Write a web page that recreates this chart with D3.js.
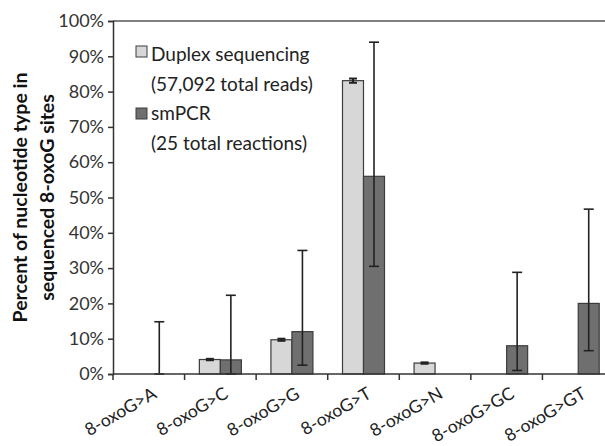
<!DOCTYPE html>
<html>
<head>
<meta charset="utf-8">
<script src="https://cdn.jsdelivr.net/npm/d3@7"></script>
<style>
  body { margin: 0; background: #fff; }
  svg { display: block; font-family: Lato, "Open Sans", sans-serif; }
</style>
</head>
<body>
<div class="chart"></div>
<script>
// Chart data.
var categories = ["8-oxoG>A", "8-oxoG>C", "8-oxoG>G", "8-oxoG>T", "8-oxoG>N", "8-oxoG>GC", "8-oxoG>GT"];
var seriesNames = ["Duplex sequencing", "smPCR"];
var seriesNotes = ["(57,092 total reads)", "(25 total reactions)"];

// Values in percent.
var duplexValues = [0, 4.1, 9.7, 83.1, 3.1, 0, 0];
var duplexLow = [null, 3.9, 9.4, 82.5, 2.9, null, null];
var duplexHigh = [null, 4.3, 10.0, 83.7, 3.3, null, null];

var smpcrValues = [0, 4, 12, 56, 0, 8, 20];
var smpcrLow = [0, 0, 2.5, 30.5, null, 1, 6.6];
var smpcrHigh = [14.8, 22.3, 35, 94, null, 28.8, 46.7];

var yTicks = [0, 10, 20, 30, 40, 50, 60, 70, 80, 90, 100];

//Define the SVG area dimensions.
var svgWidth = 605;
var svgHeight = 446;

//Plot area (it runs past the right edge of the picture).
var plot = { left: 113, right: 614, top: 21, bottom: 374 };

var svg = d3.select(".chart")
  .append("svg")
  .attr("width", svgWidth)
  .attr("height", svgHeight);

//Scales.
var x0 = d3.scaleBand()
  .domain(categories)
  .range([plot.left, plot.right])
  .padding(0);

var barW = 21;
var x1 = d3.scaleBand()
  .domain(seriesNames)
  .range([x0.bandwidth() / 2 - barW, x0.bandwidth() / 2 + barW]);

var y = d3.scaleLinear()
  .domain([0, 100])
  .range([plot.bottom, plot.top]);

var fills = ["#d7d7d7", "#6f6f6f"];
var strokeCol = "#3c3c3c";

//Top border of the plot area.
svg.append("line")
  .attr("x1", plot.left).attr("x2", plot.right)
  .attr("y1", y(100)).attr("y2", y(100))
  .attr("stroke", "#555").attr("stroke-width", 1.5);

//Y axis.
var leftAxis = d3.axisLeft(y)
  .tickValues(yTicks)
  .tickSize(5)
  .tickPadding(4)
  .tickFormat(function(d) { return d + "%"; });

var gy = svg.append("g")
  .attr("transform", "translate(" + plot.left + ",0)")
  .call(leftAxis);
gy.select(".domain").attr("stroke", "#333").attr("stroke-width", 1.5);
gy.selectAll(".tick line").attr("stroke", "#333").attr("stroke-width", 1.5);
gy.selectAll(".tick text")
  .attr("font-size", 18)
  .attr("fill", "#333")
  .style("font-family", "Lato, sans-serif");

//Bars.
var table = categories.map(function(c, i) {
  return [
    { cat: c, name: seriesNames[0], v: duplexValues[i], lo: duplexLow[i], hi: duplexHigh[i], s: 0 },
    { cat: c, name: seriesNames[1], v: smpcrValues[i], lo: smpcrLow[i], hi: smpcrHigh[i], s: 1 }
  ];
});

var groups = svg.append("g").selectAll("g")
  .data(table)
  .enter().append("g")
  .attr("transform", function(d) { return "translate(" + x0(d[0].cat) + ",0)"; });

groups.selectAll("rect")
  .data(function(d) { return d.filter(function(e) { return e.v > 0; }); })
  .enter().append("rect")
  .attr("x", function(d) { return x1(d.name); })
  .attr("width", x1.bandwidth())
  .attr("y", function(d) { return y(d.v); })
  .attr("height", function(d) { return y(0) - y(d.v); })
  .attr("fill", function(d) { return fills[d.s]; })
  .attr("stroke", strokeCol)
  .attr("stroke-width", 1.2);

//Error bars.
var eb = groups.selectAll("g.err")
  .data(function(d) { return d.filter(function(e) { return e.hi != null; }); })
  .enter().append("g")
  .attr("class", "err")
  .attr("stroke", "#222")
  .attr("stroke-width", function(d) { return d.s === 0 ? 2 : 1.6; });

var cx = function(d) { return x1(d.name) + x1.bandwidth() / 2; };
var capW = function(d) { return d.s === 0 ? 4 : 5; };

eb.append("line")
  .attr("x1", cx).attr("x2", cx)
  .attr("y1", function(d) { return y(d.lo); })
  .attr("y2", function(d) { return y(d.hi); });
eb.append("line")
  .attr("x1", function(d) { return cx(d) - capW(d); })
  .attr("x2", function(d) { return cx(d) + capW(d); })
  .attr("y1", function(d) { return y(d.hi); })
  .attr("y2", function(d) { return y(d.hi); });
eb.append("line")
  .attr("x1", function(d) { return cx(d) - capW(d); })
  .attr("x2", function(d) { return cx(d) + capW(d); })
  .attr("y1", function(d) { return y(d.lo); })
  .attr("y2", function(d) { return y(d.lo); });

//X axis: ticks sit on the category boundaries.
var bounds = categories.map(function(c) { return x0(c); }).concat([plot.right]);
var gx = svg.append("g");
gx.append("line")
  .attr("x1", plot.left).attr("x2", plot.right)
  .attr("y1", y(0)).attr("y2", y(0))
  .attr("stroke", "#333").attr("stroke-width", 1.5);
gx.selectAll("line.tk")
  .data(bounds)
  .enter().append("line")
  .attr("class", "tk")
  .attr("x1", function(d) { return d; }).attr("x2", function(d) { return d; })
  .attr("y1", y(0)).attr("y2", y(0) + 6)
  .attr("stroke", "#333").attr("stroke-width", 1.5);

gx.selectAll("text")
  .data(categories)
  .enter().append("text")
  .attr("transform", function(d) {
    return "translate(" + (x0(d) + x0.bandwidth() / 2 + 9) + "," + (y(0) + 23) + ") rotate(-30)";
  })
  .attr("text-anchor", "end")
  .attr("font-size", 17.5)
  .attr("fill", "#222")
  .text(function(d) { return d; });

//Y axis title.
var title = svg.append("text")
  .attr("transform", "translate(27," + ((plot.top + plot.bottom) / 2) + ") rotate(-90)")
  .attr("text-anchor", "middle")
  .attr("font-size", 19.5)
  .attr("font-weight", "bold")
  .attr("fill", "#111");
title.append("tspan").attr("x", 0).attr("dy", 0).text("Percent of nucleotide type in");
title.append("tspan").attr("x", 0).attr("dy", 27).text("sequenced 8-oxoG sites");

//Legend.
var legend = svg.append("g");
var legendRows = [
  { box: 46, text: 61, note: 91 },
  { box: 108, text: 120, note: 150 }
];
seriesNames.forEach(function(name, i) {
  var r = legendRows[i];
  legend.append("rect")
    .attr("x", 136).attr("y", r.box)
    .attr("width", 11).attr("height", 11)
    .attr("fill", fills[i])
    .attr("stroke", strokeCol).attr("stroke-width", 1);
  legend.append("text")
    .attr("x", 151).attr("y", r.text)
    .attr("font-size", 19).attr("fill", "#222")
    .text(name);
  legend.append("text")
    .attr("x", 151).attr("y", r.note)
    .attr("font-size", 19).attr("fill", "#222")
    .text(seriesNotes[i]);
});
</script>
</body>
</html>
